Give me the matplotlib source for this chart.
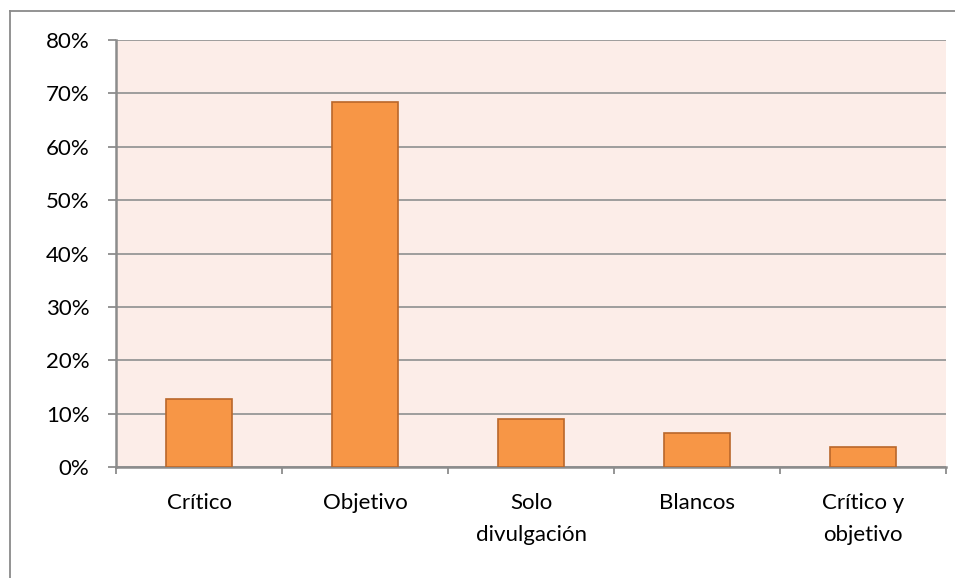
import matplotlib.pyplot as plt
from matplotlib.lines import Line2D
from matplotlib.ticker import FixedLocator, PercentFormatter
import numpy as np

categories = ['Crítico', 'Objetivo', 'Solo\ndivulgación', 'Blancos', 'Crítico y\nobjetivo']
values = [12.7, 68.4, 8.9, 6.3, 3.8]  # percent of answers
y_ticks = [0, 10, 20, 30, 40, 50, 60, 70, 80]

BAR = '#F79646'
EDGE = '#B9672B'
BG = '#FCEDE8'
GREY = '#8C8C8C'

plt.rcParams['font.family'] = ['Lato', 'DejaVu Sans']

fig = plt.figure(figsize=(9.55, 5.78), dpi=100)
W, H = 955, 578
ax = fig.add_axes([116 / W, 1 - 467 / H, (946 - 116) / W, (467 - 40) / H])
ax.set_facecolor(BG)

x = np.arange(len(categories))
ax.bar(x, values, width=0.4, color=BAR, edgecolor=EDGE, linewidth=1.2, zorder=3)

ax.set_xlim(-0.5, len(categories) - 0.5)
ax.set_ylim(0, 80)
ax.set_yticks(y_ticks)
ax.yaxis.set_major_formatter(PercentFormatter(decimals=0))
ax.grid(axis='y', color='#979797', linewidth=1.3, zorder=0)

# category labels centred, tick marks between categories
ax.set_xticks(x)
ax.set_xticklabels(categories, linespacing=1.7)
ax.xaxis.set_minor_locator(FixedLocator(np.arange(-0.5, len(categories), 1.0)))
ax.tick_params(axis='x', which='major', length=0, pad=19, labelsize=16)
ax.tick_params(axis='x', which='minor', length=5, width=1.3, color=GREY)
ax.tick_params(axis='y', length=6, width=1.3, color=GREY, pad=13, labelsize=16)

for s in ['top', 'right']:
    ax.spines[s].set_visible(False)
for s in ['left', 'bottom']:
    ax.spines[s].set_color(GREY)
    ax.spines[s].set_linewidth(1.8)

# chart frame
fig.add_artist(Line2D([9.5 / W, 9.5 / W], [0, 1 - 10.5 / H], color='#8a8a8a', lw=1.3,
                      transform=fig.transFigure))
fig.add_artist(Line2D([9.5 / W, 1], [1 - 10.5 / H, 1 - 10.5 / H], color='#8a8a8a', lw=1.3,
                      transform=fig.transFigure))

fig.savefig('out.png', dpi=100, facecolor='white')
